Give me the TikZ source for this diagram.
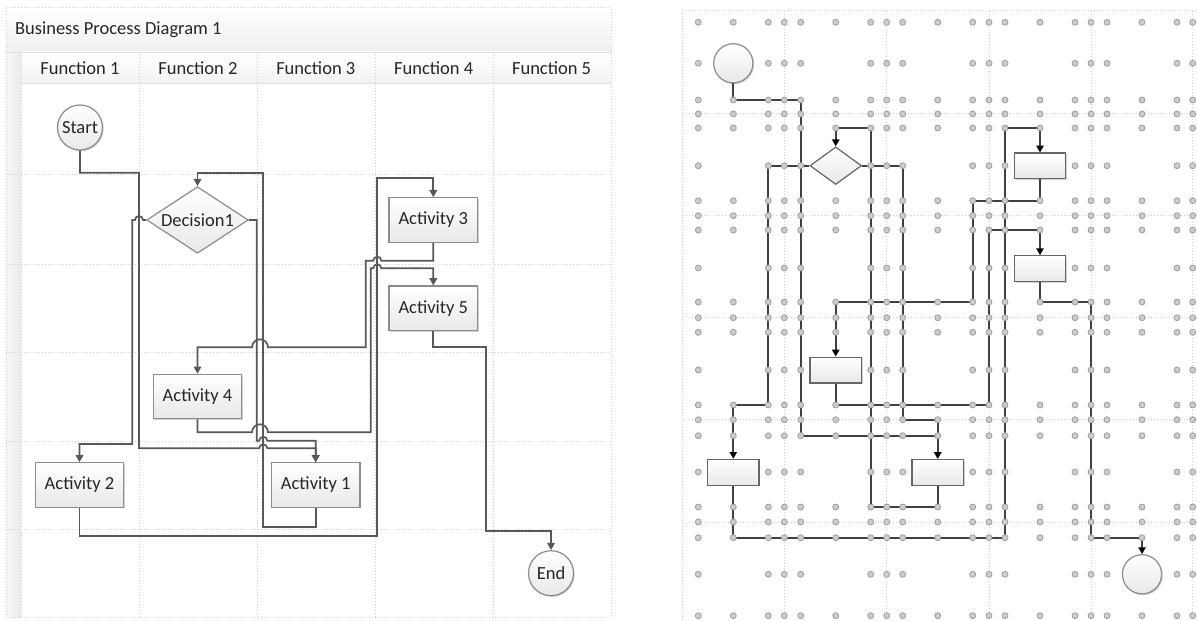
\documentclass[tikz,border=0pt]{standalone}
\usepackage{fontspec}
\setmainfont{Carlito}
\usetikzlibrary{arrows.meta,shapes.geometric,shadows}

\definecolor{lanegray}{HTML}{CFCFCF}
\definecolor{wire}{HTML}{585858}
\definecolor{rwire}{HTML}{404040}
\definecolor{boxline}{HTML}{8C8C8C}

\begin{document}
\begin{tikzpicture}[x=0.5pt, y=-0.5pt,
  every node/.style={font=\fontsize{9.25}{11}\selectfont, text=black!85},
  lane/.style={lanegray, densely dotted, line width=0.5pt},
  box/.style={draw=boxline, line width=0.6pt, top color=white, bottom color=black!9, inner sep=0pt},
  castshadow/.style={drop shadow={shadow xshift=0.6pt, shadow yshift=-0.6pt, opacity=0.18, fill=black}},
  actbox/.style={box, castshadow, rectangle, minimum width=44.3pt, minimum height=22.2pt},
  evtbox/.style={box, castshadow, circle, minimum size=22.5pt},
  decbox/.style={box, diamond, aspect=1.53, minimum width=50.8pt, minimum height=33.3pt},
  ractbox/.style={box, castshadow, draw=black!60, rectangle, minimum width=25.7pt, minimum height=12.9pt},
  revtbox/.style={box, castshadow, circle, minimum size=19.6pt},
  rdecbox/.style={box, draw=black!60, diamond, minimum width=25.8pt, minimum height=18.8pt},
  flow/.style={wire, line width=0.85pt, -{Triangle[length=3.6pt,width=3.8pt]}},
  rflow/.style={rwire, line width=0.85pt, -{Triangle[length=3.4pt,width=3.6pt,black]}},
  gridpt/.style={fill=black!20, draw=black!38, line width=0.4pt}]
\useasboundingbox (0,0) rectangle (1197,620);

% ---- left: swimlane view
\fill[white] (6,8) rectangle (611,617);
\shade[top color=white, bottom color=black!6] (6,8) rectangle (611,52);
\shade[top color=white, bottom color=black!5] (21,52) rectangle (611,83);
\shade[left color=black!3, right color=black!8] (6,52) rectangle (21,617);
\draw[black!12] (6,52) -- (611,52) (21,83) -- (611,83);
\draw[lane] (6,8) rectangle (611,617);
\foreach \x in {21,139,257,375,493} \draw[lane] (\x,52) -- (\x,617);
\foreach \y in {175,264,352,441,529} \draw[lane] (6,\y) -- (611,\y);
\node[anchor=west] (title) at (8,30) {Business Process Diagram 1};
\foreach \i in {1,...,5} \node (fn\i) at ({80+117.9*(\i-1)},68) {Function \i};

\node[evtbox] (start) at (80,127.5) {Start};
\node[decbox] (dec) at (197.5,220) {Decision1};
\node[actbox] (act3) at (433.3,220) {Activity 3};
\node[actbox] (act5) at (433.3,308.2) {Activity 5};
\node[actbox] (act4) at (197.5,396.5) {Activity 4};
\node[actbox] (act2) at (79.5,485) {Activity 2};
\node[actbox] (act1) at (315.7,485) {Activity 1};
\node[evtbox] (stop) at (551,573.2) {End};

\draw[flow] (start.south) |- (139,172.7) -- (139,448.3) -- (259.3,448.3) arc[start angle=180,end angle=360,radius=4] -| (act1.north);
\draw[flow] (dec.west) -- (143,220) arc[start angle=0,end angle=-180,radius=4] -- (132.3,220) -- (132.3,444) -| (act2.north);
\draw[flow] (dec.east) -| (256.7,440.7) -- (259.3,440.7) arc[start angle=180,end angle=360,radius=4] -| (act1.north);
\draw[flow] (act1.south) |- (263.3,526.7) -- (263.3,172.7) -| (dec.north);
\draw[flow] (act2.south) |- (377.3,535.7) -- (377.3,178.3) -| (act3.north);
\draw[flow] (act3.south) |- (381.3,260.7) arc[start angle=0,end angle=-180,radius=4] -- (365.7,260.7) -- (365.7,347.3) -- (268,347.3) arc[start angle=0,end angle=-180,radius=8] -| (act4.north);
\draw[flow] (act4.south) |- (252,432.3) arc[start angle=180,end angle=360,radius=8] -- (370.7,432.3) -- (370.7,268.3) -- (373.3,268.3) arc[start angle=180,end angle=360,radius=4] -| (act5.north);
\draw[flow] (act5.south) |- (485.7,346.7) -- (485.7,531) -| (stop.north);

% ---- right: routing grid view
\draw[lane] (682.7,620) -- (682.7,11) -- (1197,11);
\foreach \x in {784.3,886.7,989,1091,1192.7} \draw[lane] (\x,11) -- (\x,620);
\foreach \y in {114,215.7,317.7,419.7,522} \draw[lane] (682.7,\y) -- (1197,\y);

\node[revtbox] (rstart) at (733.3,63.3) {};
\node[rdecbox] (rdec) at (835.7,165.7) {};
\node[ractbox] (ract3) at (1040,166) {};
\node[ractbox] (ract5) at (1040,268.7) {};
\node[ractbox] (ract4) at (835.7,370) {};
\node[ractbox] (ract2) at (733.3,472.3) {};
\node[ractbox] (ract1) at (937.7,472.3) {};
\node[revtbox] (rstop) at (1142,574.3) {};

\draw[rflow] (rstart.south) |- (800.7,100) -- (800.7,435.7) -| (ract1.north);
\draw[rflow] (ract1.south) |- (870.7,507) -- (870.7,128) -| (rdec.north);
\draw[rflow] (rdec.east) -| (902.7,419.7) -| (ract1.north);
\draw[rflow] (rdec.west) -| (768.3,405) -| (ract2.north);
\draw[rflow] (ract2.south) |- (1005,537.7) -- (1005,128) -| (ract3.north);
\draw[rflow] (ract3.south) |- (972.7,200.7) -- (972.7,302) -| (ract4.north);
\draw[rflow] (ract4.south) |- (989,405) -- (989,230) -| (ract5.north);
\draw[rflow] (ract5.south) |- (1091,302) -- (1091,537.7) -| (rstop.north);

% routing points, none where a column centre meets a row centre
\foreach \x/\xc in {698.3/0,733.3/1,768.3/0,784.3/0,800.7/0,835.7/1,870.7/0,886.7/0,902.7/0,937.7/1,972.7/0,989/0,1005/0,1040/1,1075/0,1091/0,1107/0,1142/1,1177/0,1192.7/0}
  \foreach \y/\yc in {22.3/0,63.3/1,100/0,114/0,128/0,165.7/1,200.7/0,215.7/0,230/0,268/1,302/0,317.7/0,332.3/0,370/1,405/0,419.7/0,435.7/0,472/1,507/0,522/0,537.7/0,574.3/1,615.7/0}
    {\ifnum\numexpr\xc*\yc\relax=0 \draw[gridpt] (\x,\y) circle[radius=3]; \fi}
\end{tikzpicture}
\end{document}
